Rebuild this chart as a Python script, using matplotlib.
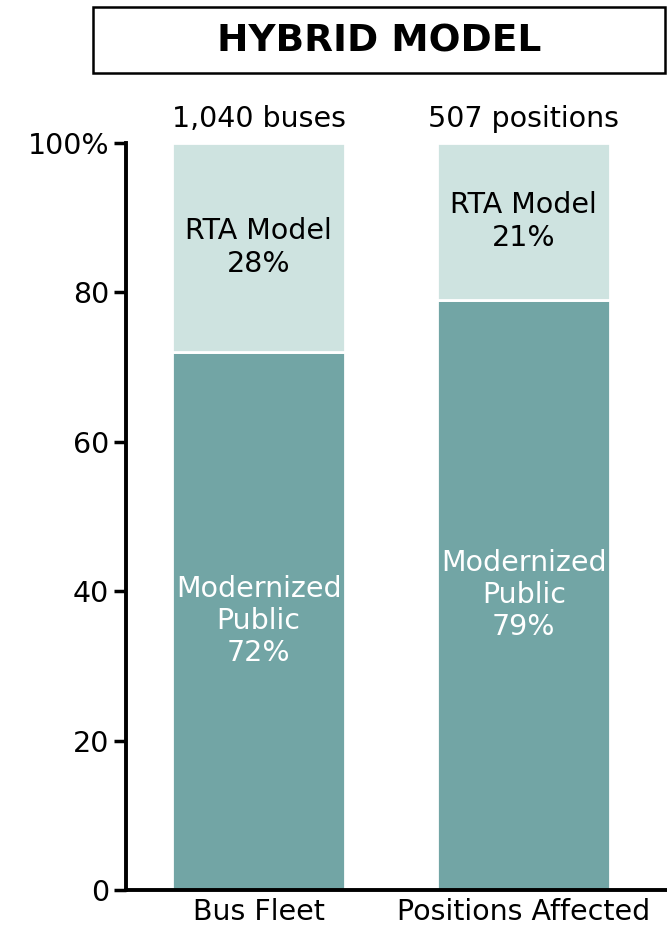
import matplotlib
matplotlib.use("Agg")
import matplotlib.pyplot as plt
from matplotlib.patches import Rectangle

categories = ["Bus Fleet", "Positions Affected"]
modernized = [72, 79]
rta = [28, 21]
totals = ["1,040 buses", "507 positions"]
yticks = [0, 20, 40, 60, 80, 100]
ytick_labels = ["0", "20", "40", "60", "80", "100%"]

dark = "#72A5A5"
light = "#CEE3E0"

plt.rcParams['font.family'] = ['DejaVu Sans']
fig = plt.figure(figsize=(6.67, 9.3), dpi=100)
ax = fig.add_axes([126/667, 1-890/930, 1-126/667, (890-143)/930])

x = list(range(len(categories)))
w = 0.653
ax.bar(x, modernized, width=w, color=dark, edgecolor="white", linewidth=2)
ax.bar(x, rta, width=w, bottom=modernized, color=light, edgecolor="white", linewidth=2)

fs = 20.5
for i in x:
    m = modernized[i]
    r = rta[i]
    ax.text(i, m/2, f"Modernized\nPublic\n{m}%", ha="center", va="center",
            color="white", fontsize=fs, linespacing=1.2)
    ax.text(i, m + r/2, f"RTA Model\n{r}%", ha="center", va="center",
            color="black", fontsize=fs, linespacing=1.2)
    ax.annotate(totals[i], (i, 100), xytext=(0, 7), textcoords="offset points",
                ha="center", va="bottom", fontsize=fs)

ax.set_xlim(-0.5, 1.54)
ax.set_ylim(0, 100)
ax.set_yticks(yticks)
ax.set_yticklabels(ytick_labels, fontsize=fs)
ax.set_xticks(x)
ax.set_xticklabels(categories, fontsize=fs)
ax.tick_params(axis="x", length=0, pad=6)
ax.tick_params(axis="y", length=9, width=2.5, direction="out", pad=3)
for s in ["top", "right"]:
    ax.spines[s].set_visible(False)
for s in ["left", "bottom"]:
    ax.spines[s].set_linewidth(2.8)
ax.spines["left"].set_bounds(0, 100)

# title box
fig.patches.append(Rectangle((93/667, 1-73/930), (665-93)/667, 66/930,
                             transform=fig.transFigure, fill=False,
                             edgecolor="black", linewidth=1.8))
fig.text((93+665)/2/667, 1-41/930, "HYBRID MODEL", ha="center", va="center",
         fontsize=27, fontweight="bold")

fig.savefig("out.png", dpi=100)
